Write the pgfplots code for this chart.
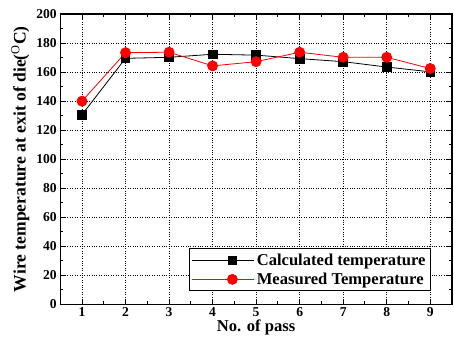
\documentclass[border=0pt]{standalone}
\usepackage{fontspec}
\setmainfont{Liberation Serif}
\usepackage{pgfplots}
\pgfplotsset{compat=1.18}
\begin{document}
\begin{tikzpicture}
\begin{axis}[
  scale only axis,
  width=390pt, height=289pt,
  xmin=0.5, xmax=9.5, ymin=0, ymax=200,
  xtick={1,...,9}, ytick={0,20,...,200},
  minor x tick num=1, minor y tick num=1,
  tick align=inside,
  major tick length=5pt, minor tick length=3pt,
  axis line style={line width=1.3pt},
  every tick/.style={black, line width=1pt},
  grid=major,
  major grid style={black, dotted, line width=0.6pt},
  tick label style={font=\fontsize{13.5}{15}\selectfont\bfseries},
  /pgf/number format/assume math mode=true,
  xlabel={No. of pass},
  ylabel={Wire temperature at exit of die($^{\mathrm{O}}$C)},
  xlabel style={font=\fontsize{16.5}{18}\selectfont\bfseries, yshift=4pt},
  ylabel style={font=\fontsize{17.5}{19}\selectfont\bfseries, yshift=0pt},
  legend style={at={(0.946,0.045)}, anchor=south east, draw=black, line width=0.8pt,
    font=\fontsize{16.5}{18}\selectfont\bfseries, row sep=2pt, inner sep=3pt},
  legend cell align=left,
  legend image code/.code={
    \path (0cm,0cm) -- (0.62cm,0cm);
    \draw[mark repeat=2,mark phase=2] plot coordinates {(0.62cm,0cm) (1.4cm,0cm) (2.17cm,0cm)};
  },
]
\addplot[black, line width=0.8pt, mark=square*, mark size=4.3pt, mark options={solid}]
coordinates {(1,130.7) (2,169.5) (3,170.2) (4,172.3) (5,171.7) (6,169.3) (7,167.2) (8,163.5) (9,160.2)};
\addlegendentry{Calculated temperature}
\addplot[red, line width=0.8pt, mark=*, mark size=5pt, mark options={solid}]
coordinates {(1,140) (2,173.4) (3,173.7) (4,164.3) (5,167.2) (6,173.7) (7,170.2) (8,170.2) (9,162.5)};
\addlegendentry{Measured Temperature}
\end{axis}
\path (current axis.south west) +(-60pt,-44pt) (current axis.north east) +(2pt,14pt);
\end{tikzpicture}
\end{document}
